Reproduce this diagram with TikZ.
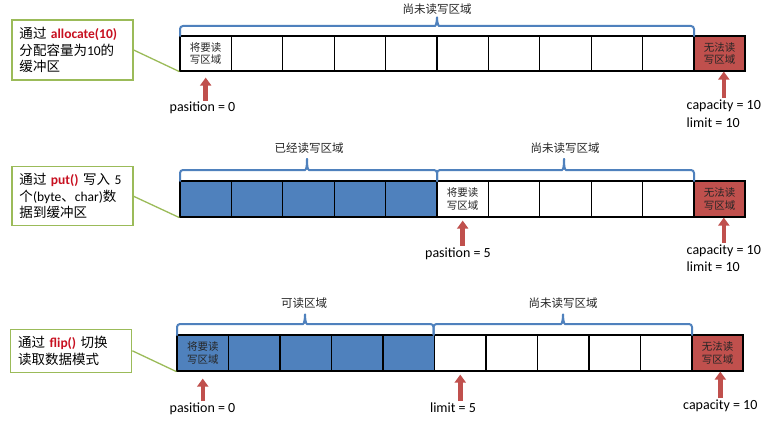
\documentclass[tikz,border=0pt]{standalone}
\usepackage{fontspec}
\setmainfont{Carlito}
\newfontfamily\cjk{Noto Sans CJK SC}
\usetikzlibrary{arrows.meta}

\begin{document}
\begin{tikzpicture}[x=1pt,y=1pt,
  cellbox/.style={draw=black,line width=1.2pt,minimum width=51.4pt,minimum height=35pt,inner sep=0pt,
    align=center,text=black!85,font=\cjk\fontsize{10.5}{12.5}\selectfont},
  callout/.style={draw=noteGreen,line width=1.3pt,fill=white,text width=106pt,inner xsep=7.5pt,inner ysep=0pt,
    align=left,font=\fontsize{13.5}{16.5}\selectfont},
  noteline/.style={draw=noteGreen,line width=1.3pt},
  areabrace/.style={draw=braceBlue,line width=2pt,rounded corners=3pt,line cap=round},
  bracelabel/.style={inner sep=0pt,text=black!85,font=\cjk\fontsize{11.5}{13}\selectfont},
  ptr/.style={draw=arrowRed,line width=4.5pt,-{Triangle[width=11pt,length=8pt]}},
  ptrlabel/.style={inner sep=1.5pt,font=\fontsize{14}{16.5}\selectfont}]
\definecolor{fillColor}{RGB}{255,255,255}
\definecolor{cellBlue}{RGB}{79,129,189}
\definecolor{capRed}{RGB}{192,80,77}
\definecolor{arrowRed}{RGB}{192,80,77}
\definecolor{braceBlue}{RGB}{79,129,189}
\definecolor{noteGreen}{RGB}{155,187,89}
\definecolor{keyRed}{RGB}{200,16,32}
\path[use as bounding box,fill=fillColor] (0,0) rectangle (783,421);

% allocate(10)
\node[callout,minimum height=60pt] (note1) at (72.5,371)
  {{\cjk 通过} \textbf{\color{keyRed}allocate(10)}\\{\cjk 分配容量为}10{\cjk 的}\\{\cjk 缓冲区}};

\node[cellbox] (r1c0) at (205.7,367.5) {将要读\\写区域};
\foreach \i in {1,...,9}
  \node[cellbox] (r1c\i) at ({205.7+51.4*\i},367.5) {};
\node[cellbox,fill=capRed,minimum width=51pt] (r1cap) at (719.5,367.5) {无法读\\写区域};

\draw[areabrace] (180,385) -- (180,395) -- (432,395) to[out=0,in=-90] (437,403.5);
\draw[areabrace] (437,403.5) to[out=-90,in=180] (442,395) -- (694,395) -- (694,385);
\node[bracelabel] (free1) at (437,411.5) {尚未读写区域};

\node[ptrlabel,anchor=base] (pos1) at (202.5,309) {pasition = 0};
\node[ptrlabel,anchor=base west] (cap1) at (685,311.5) {capacity = 10};
\node[ptrlabel,anchor=base west] (lim1) at (685,294) {limit = 10};

\draw[ptr,shorten >=6pt] (pos1.north -| r1c0.south) -- (r1c0.south);
\draw[ptr] (cap1.north) -- (cap1.north |- r1cap.south);
\draw[noteline] (note1.east) -- (r1c0.south west);

% put()
\node[callout,minimum height=59pt] (note2) at (72.5,224.7)
  {{\cjk 通过} \textbf{\color{keyRed}put()} {\cjk 写入} 5\\{\cjk 个}(byte{\cjk 、}char){\cjk 数}\\{\cjk 据到缓冲区}};

\foreach \i in {0,...,4}
  \node[cellbox,fill=cellBlue,minimum height=36pt] (r2c\i) at ({205.7+51.4*\i},222) {};
\node[cellbox,minimum height=36pt] (r2c5) at (462.7,222) {将要读\\写区域};
\foreach \i in {6,...,9}
  \node[cellbox,minimum height=36pt] (r2c\i) at ({205.7+51.4*\i},222) {};
\node[cellbox,fill=capRed,minimum width=51pt,minimum height=36pt] (r2cap) at (719.5,222) {无法读\\写区域};

\draw[areabrace] (180,240) -- (180,251) -- (302,251) to[out=0,in=-90] (307,262);
\draw[areabrace] (307,262) to[out=-90,in=180] (312,251) -- (437,251) -- (437,240);
\draw[areabrace] (437,240) -- (437,251) -- (559,251) to[out=0,in=-90] (564,262);
\draw[areabrace] (564,262) to[out=-90,in=180] (569,251) -- (694,251) -- (694,240);
\node[bracelabel] (done2) at (309,273) {已经读写区域};
\node[bracelabel] (free2) at (565,273) {尚未读写区域};

\node[ptrlabel,anchor=base] (pos2) at (458,164) {pasition = 5};
\node[ptrlabel,anchor=base west] (cap2) at (685,167) {capacity = 10};
\node[ptrlabel,anchor=base west] (lim2) at (685,150) {limit = 10};

\draw[ptr,shorten >=3pt] (pos2.north -| r2c5.south) -- (r2c5.south);
\draw[ptr] (cap2.north) -- (cap2.north |- r2cap.south);
\draw[noteline] (note2.east) -- (r2c0.south west);

% flip()
\node[callout,minimum height=43pt] (note3) at (71.2,70.2)
  {{\cjk 通过} \textbf{\color{keyRed}flip()} {\cjk 切换}\\{\cjk 读取数据模式}};

\node[cellbox,fill=cellBlue,minimum width=51.5pt,minimum height=36pt] (r3c0) at (202.75,68) {将要读\\写区域};
\foreach \i in {1,...,4}
  \node[cellbox,fill=cellBlue,minimum width=51.5pt,minimum height=36pt] (r3c\i) at ({202.75+51.5*\i},68) {};
\foreach \i in {5,...,9}
  \node[cellbox,minimum width=51.5pt,minimum height=36pt] (r3c\i) at ({202.75+51.5*\i},68) {};
\node[cellbox,fill=capRed,minimum width=51pt,minimum height=36pt] (r3cap) at (717.5,68) {无法读\\写区域};

\draw[areabrace] (177,86) -- (177,97) -- (300,97) to[out=0,in=-90] (305,106.5);
\draw[areabrace] (305,106.5) to[out=-90,in=180] (310,97) -- (433.5,97) -- (433.5,86);
\draw[areabrace] (433.5,86) -- (433.5,97) -- (558,97) to[out=0,in=-90] (563,106.5);
\draw[areabrace] (563,106.5) to[out=-90,in=180] (568,97) -- (692,97) -- (692,86);
\node[bracelabel] (read3) at (304,118) {可读区域};
\node[bracelabel] (free3) at (563,118) {尚未读写区域};

\node[ptrlabel,anchor=base] (pos3) at (202.5,8.5) {pasition = 0};
\node[ptrlabel,anchor=base] (lim3) at (453,9) {limit = 5};
\node[ptrlabel,anchor=base] (cap3) at (720.3,12) {capacity = 10};

\draw[ptr,shorten >=7pt] (pos3.north -| r3c0.south) -- (r3c0.south);
\draw[ptr,shorten >=3pt] (lim3.north -| r3c5.south) -- (r3c5.south);
\draw[ptr] (cap3.north) -- (cap3.north |- r3cap.south);
\draw[noteline] (note3.east) -- (r3c0.south west);
\end{tikzpicture}
\end{document}
